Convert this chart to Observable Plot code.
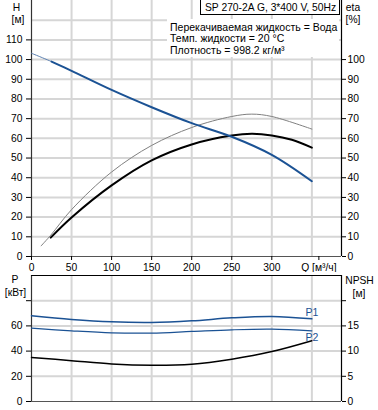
<!DOCTYPE html>
<html><head><meta charset="utf-8">
<script src="https://cdn.jsdelivr.net/npm/d3@7"></script>
<script src="https://cdn.jsdelivr.net/npm/@observablehq/plot@0.6"></script>
<style>
body{margin:0;background:#fff;font-family:"Liberation Sans",Arial,sans-serif;}
#wrap{position:relative;width:378px;height:410px;overflow:hidden;background:#fff;}
#top,#bot{position:absolute;left:0;}
#top{top:0}
#bot{top:272px}
.lbl{position:absolute;font-size:10.3px;color:#000;transform:translate(-50%,-50%);white-space:nowrap;line-height:1;}
#title{position:absolute;left:200px;top:-1px;height:16px;border:1px solid #000;background:#fff;font-size:10.3px;line-height:16px;padding-left:4px;box-sizing:border-box;width:140px;white-space:nowrap;}
#info{position:absolute;left:167px;top:19px;width:172px;height:38px;background:#fff;font-size:10.5px;}
#info div{position:absolute;left:3px;white-space:nowrap;line-height:1;}
</style>
</head><body>
<div id="wrap">
  <div id="top"></div>
  <div id="bot"></div>
</div>
<script>
// ---- data ----
const qGrid = [50, 100, 150, 200, 250, 300, 350];
const qTickLabels = [0, 50, 100, 150, 200, 250, 300];
const hGrid = [10, 20, 30, 40, 50, 60, 70, 80, 90, 100, 110, 120];
const hTicks = [0, 10, 20, 30, 40, 50, 60, 70, 80, 90, 100, 110];
const etaTicks = [0, 10, 20, 30, 40, 50, 60, 70, 80, 90, 100];
const pTicks = [0, 20, 40, 60, 80];
const npshTicks = [0, 5, 10, 15, 20];

const qH = [0, 12, 25, 50, 100, 150, 200, 250, 300, 350];
const hVals = [103.2, 101.2, 99.0, 94.3, 84.6, 75.8, 67.7, 60.8, 51.6, 38.2];

const qEta = [24, 50, 100, 150, 200, 250, 275, 300, 325, 350];
const etaVals = [9.6, 19.8, 36.1, 48.8, 56.9, 61.4, 62.3, 61.5, 59.3, 55.3];

const qEtaT = [12, 24, 50, 100, 150, 200, 250, 275, 300, 350];
const etaTVals = [5.4, 10.8, 23.8, 42.9, 56.4, 65.5, 71.1, 72.3, 71.1, 64.7];

const qP = [0, 50, 100, 150, 200, 250, 300, 350];
const p1Vals = [68.0, 65.1, 63.2, 62.7, 64.0, 66.4, 67.5, 65.6];
const p2Vals = [58.2, 56.1, 54.5, 54.3, 55.6, 56.9, 57.4, 56.1];
const npshVals = [8.75, 8.1, 7.45, 7.2, 7.4, 8.4, 9.9, 12.05];

const titleText = "SP 270-2A G, 3*400 V, 50Hz";
const infoLines = ["Перекачиваемая жидкость = Вода", "Темп. жидкости = 20 °C", "Плотность = 998.2 кг/м³"];

// ---- build ----
const BLUE = "#1b5294";
const GRID = "#d6d6d6";
const zip = (xs, ys) => xs.map((x, i) => ({x, y: ys[i]}));
const H = zip(qH, hVals);
const ETA = zip(qEta, etaVals);
const ETAT = zip(qEtaT, etaTVals);
const P1 = zip(qP, p1Vals);
const P2 = zip(qP, p2Vals);
const NP = zip(qP, npshVals.map(v => v * 4)); // NPSH axis: 1 m = 4 kW on the shared scale

const style = {fontFamily: "Liberation Sans, Arial, sans-serif", fontSize: "10.3px", background: "transparent", color: "#000"};
const curve = "catmull-rom";

const topPlot = Plot.plot({
  width: 378, height: 272,
  marginLeft: 31, marginRight: 37, marginTop: 0, marginBottom: 16,
  style,
  x: {domain: [0, 387], axis: null},
  y: {domain: [0, 130], axis: null},
  marks: [
    Plot.ruleX(qGrid, {stroke: GRID, strokeWidth: 2}),
    Plot.ruleY(hGrid, {stroke: GRID, strokeWidth: 2}),
    Plot.ruleX([0], {stroke: "#333", strokeWidth: 1.2}),
    Plot.ruleX([387], {stroke: "#000", strokeWidth: 1.2}),
    Plot.ruleY([0], {stroke: "#555", strokeWidth: 1.2}),
    Plot.line(ETAT, {x: "x", y: "y", stroke: "#808080", strokeWidth: 1, curve}),
    Plot.line(ETA, {x: "x", y: "y", stroke: "#000", strokeWidth: 2, curve}),
    Plot.line(H.filter(d => d.x <= 25), {x: "x", y: "y", stroke: "#5a7fb0", strokeWidth: 1, curve}),
    Plot.line(H.filter(d => d.x >= 25), {x: "x", y: "y", stroke: BLUE, strokeWidth: 2, curve}),
    Plot.axisY({anchor: "left", ticks: hTicks, tickSize: 5, tickPadding: 4, label: null}),
    Plot.axisY({anchor: "right", ticks: etaTicks, tickSize: 4, tickPadding: 2, label: null}),
    Plot.axisX({ticks: qTickLabels, tickSize: 4, tickPadding: 3, label: null}),
    Plot.axisX({ticks: [350], tickSize: 4, tickPadding: 3, label: null, tickFormat: () => "Q [м³/ч]", dx: 7})
  ]
});
document.getElementById("top").appendChild(topPlot);

const botPlot = Plot.plot({
  width: 378, height: 138,
  marginLeft: 31, marginRight: 37, marginTop: 3, marginBottom: 9,
  style,
  x: {domain: [0, 387], axis: null},
  y: {domain: [0, 100], axis: null},
  marks: [
    Plot.ruleX(qGrid, {stroke: GRID, strokeWidth: 2}),
    Plot.ruleY(pTicks.filter(d => d > 0), {stroke: GRID, strokeWidth: 2}),
    Plot.ruleX([0], {stroke: "#333", strokeWidth: 1.2}),
    Plot.ruleX([387], {stroke: "#000", strokeWidth: 1.2}),
    Plot.ruleY([0], {stroke: "#555", strokeWidth: 1.2}),
    Plot.ruleY([100], {stroke: "#000", strokeWidth: 1.2}),
    Plot.line(P1, {x: "x", y: "y", stroke: BLUE, strokeWidth: 1.5, curve}),
    Plot.line(P2, {x: "x", y: "y", stroke: BLUE, strokeWidth: 1.2, curve}),
    Plot.line(NP, {x: "x", y: "y", stroke: "#000", strokeWidth: 1.5, curve}),
    Plot.text(P1.slice(-1), {x: "x", y: "y", text: () => "P1", dy: -6, fill: BLUE, fontSize: 10.5}),
    Plot.text(P2.slice(-1), {x: "x", y: "y", text: () => "P2", dy: 7, fill: BLUE, fontSize: 10.5}),
    Plot.axisY({anchor: "left", ticks: pTicks, tickSize: 5, tickPadding: 4, label: null, tickFormat: d => d === 80 ? "" : d}),
    Plot.axisY({anchor: "right", ticks: npshTicks.map(v => v * 4), tickSize: 4, tickPadding: 2, label: null, tickFormat: d => d === 80 ? "" : d / 4})
  ]
});
document.getElementById("bot").appendChild(botPlot);

// ---- texts ----
const wrap = document.getElementById("wrap");
function lbl(t, x, y) {
  const e = document.createElement("div");
  e.className = "lbl"; e.textContent = t;
  e.style.left = x + "px"; e.style.top = y + "px";
  wrap.appendChild(e);
}
lbl("H", 16.5, 8); lbl("[м]", 18, 19.5);
lbl("eta", 353, 8); lbl("[%]", 353, 19.5);
lbl("P", 15, 280); lbl("[кВт]", 15.5, 293);
lbl("NPSH", 359.5, 281); lbl("[м]", 359, 294);

const tb = document.createElement("div");
tb.id = "title"; tb.textContent = titleText; wrap.appendChild(tb);
const info = document.createElement("div");
info.id = "info";
infoLines.forEach((t, i) => {
  const d = document.createElement("div");
  d.textContent = t; d.style.top = (2.5 + i * 11.8) + "px";
  info.appendChild(d);
});
wrap.appendChild(info);
</script>
</body></html>
